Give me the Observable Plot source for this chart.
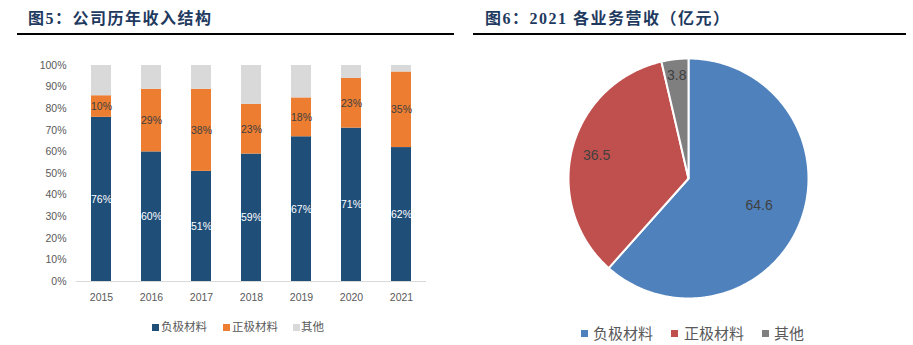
<!DOCTYPE html>
<html>
<head>
<meta charset="utf-8">
<script src="https://cdn.jsdelivr.net/npm/d3@7"></script>
<script src="https://cdn.jsdelivr.net/npm/@observablehq/plot@0.6"></script>
<style>
  html, body { margin: 0; padding: 0; background: #fff; }
  body { width: 913px; height: 345px; position: relative; overflow: hidden; font-family: "Liberation Sans", "Noto Sans CJK SC", sans-serif; }
  .title { position: absolute; top: 6px; font-family: "Liberation Serif", "Noto Sans CJK SC", serif; font-weight: bold; font-size: 16px; line-height: 22px; color: #1f3a5f; white-space: nowrap; letter-spacing: 1.5px; }
  .title .cjk { font-family: "Noto Sans CJK SC", sans-serif; }
  .rule { position: absolute; top: 33px; height: 2px; background: #000; }
  .abs { position: absolute; }
  .leg { position: absolute; white-space: nowrap; font-family: "Noto Sans CJK SC", sans-serif; color: #595959; }
  .sw { position: absolute; }
</style>
</head>
<body>
<div class="title" style="left:28px;"><span class="cjk">图</span>5<span class="cjk">：公司历年收入结构</span></div>
<div class="rule" style="left:17px; width:437px;"></div>
<div class="title" style="left:485px;"><span class="cjk">图</span>6<span class="cjk">：</span>2021 <span class="cjk">各业务营收（亿元）</span></div>
<div class="rule" style="left:473px; width:433px;"></div>
<div id="bars" class="abs" style="left:0; top:40px;"></div>
<div id="pie" class="abs" style="left:560px; top:50px;"></div>
<div id="leg1"></div>
<div id="leg2"></div>
<script>
// ---- Data: revenue structure by year (share) ----
const years = ["2015", "2016", "2017", "2018", "2019", "2020", "2021"];
const seriesNames = ["负极材料", "正极材料", "其他"];
const anodeShare = [0.76, 0.60, 0.51, 0.59, 0.67, 0.71, 0.62];
const cathodeShare = [0.10, 0.29, 0.38, 0.23, 0.18, 0.23, 0.35];
const otherShare = [0.14, 0.11, 0.11, 0.18, 0.15, 0.06, 0.03];
const yTicks = [0, 0.1, 0.2, 0.3, 0.4, 0.5, 0.6, 0.7, 0.8, 0.9, 1.0];

// ---- Data: 2021 revenue by business (亿元) ----
const pieNames = ["负极材料", "正极材料", "其他"];
const pieValues = [64.6, 36.5, 3.8];

// ---- Styles ----
const barColors = ["#1f4e79", "#ed7d31", "#d9d9d9"];
const pieColors = ["#4f81bd", "#c0504d", "#7f7f7f"];

// Build table for stacked bars
const shares = [anodeShare, cathodeShare, otherShare];
const barTable = [];
seriesNames.forEach((s, si) => years.forEach((y, yi) => barTable.push({year: y, series: s, value: shares[si][yi]})));

const pct = d3.format(".0%");
const anodeLabels = years.map((y, i) => ({year: y, mid: anodeShare[i] / 2, text: pct(anodeShare[i])}));
const cathodeLabels = years.map((y, i) => ({year: y, mid: anodeShare[i] + cathodeShare[i] / 2, text: pct(cathodeShare[i])}));

const bars = Plot.plot({
  width: 460, height: 280,
  marginLeft: 76, marginRight: 34, marginTop: 25, marginBottom: 39,
  style: {fontFamily: "Liberation Sans, sans-serif", fontSize: "10.5px", color: "#595959", background: "transparent"},
  x: {domain: years, paddingInner: 0.6, paddingOuter: 0.3, tickSize: 0, tickPadding: 12, label: null},
  y: {domain: [0, 1], ticks: yTicks, tickFormat: pct, tickSize: 0, tickPadding: 10, label: null},
  color: {domain: seriesNames, range: barColors},
  marks: [
    Plot.barY(barTable, {x: "year", y: "value", fill: "series", order: seriesNames}),
    Plot.ruleY([0], {stroke: "#d9d9d9", strokeWidth: 1}),
    Plot.text(anodeLabels, {x: "year", y: "mid", text: "text", fill: "#ffffff", fontSize: 10.5}),
    Plot.text(cathodeLabels, {x: "year", y: "mid", text: "text", fill: "#404040", fontSize: 10.5})
  ]
});
document.getElementById("bars").appendChild(bars);

// Pie slices as filled polygons in a unit coordinate system (start at 12 o'clock, clockwise)
const total = d3.sum(pieValues);
const pieRows = [];
const pieLabelRows = [];
const labelRadius = [0.63, 0.79, 0.86];
let acc = 0;
pieValues.forEach((v, i) => {
  const a0 = acc / total * 2 * Math.PI;
  const a1 = (acc + v) / total * 2 * Math.PI;
  acc += v;
  pieRows.push({name: pieNames[i], x: 0, y: 0});
  const n = Math.max(2, Math.ceil((a1 - a0) / (Math.PI / 360)));
  for (let k = 0; k <= n; k++) {
    const a = a0 + (a1 - a0) * k / n;
    pieRows.push({name: pieNames[i], x: Math.sin(a), y: Math.cos(a)});
  }
  pieRows.push({name: pieNames[i], x: 0, y: 0});
  const am = (a0 + a1) / 2;
  pieLabelRows.push({x: labelRadius[i] * Math.sin(am), y: labelRadius[i] * Math.cos(am), text: String(v)});
});

const pie = Plot.plot({
  width: 256, height: 256,
  margin: 0,
  style: {background: "transparent", fontFamily: "Liberation Sans, sans-serif"},
  x: {domain: [-1, 1], range: [8, 248], axis: null},
  y: {domain: [-1, 1], range: [248, 8], axis: null},
  color: {domain: pieNames, range: pieColors},
  marks: [
    Plot.line(pieRows, {x: "x", y: "y", z: "name", fill: "name", stroke: "#ffffff", strokeWidth: 2, strokeLinejoin: "round", curve: "linear"}),
    Plot.text(pieLabelRows, {x: "x", y: "y", text: "text", fill: "#404040", fontSize: 14})
  ]
});
document.getElementById("pie").appendChild(pie);

// Legends
function legend(containerId, names, colors, opts) {
  const c = document.getElementById(containerId);
  names.forEach((n, i) => {
    const sw = document.createElement("div");
    sw.className = "sw";
    sw.style.cssText = `left:${opts.sx[i]}px; top:${opts.cy - opts.size / 2}px; width:${opts.size}px; height:${opts.size}px; background:${colors[i]};`;
    c.appendChild(sw);
    const t = document.createElement("div");
    t.className = "leg";
    t.textContent = n;
    t.style.cssText += `left:${opts.tx[i]}px; top:${opts.cy - opts.fs * 0.75}px; font-size:${opts.fs}px; line-height:${opts.fs * 1.5}px;`;
    c.appendChild(t);
  });
}
legend("leg1", seriesNames, barColors, {sx: [152, 223, 293], tx: [161, 232, 301], cy: 327, size: 7, fs: 11.5});
legend("leg2", pieNames, pieColors, {sx: [581, 671, 762], tx: [593, 684, 774], cy: 333, size: 7, fs: 15});
</script>
</body>
</html>
